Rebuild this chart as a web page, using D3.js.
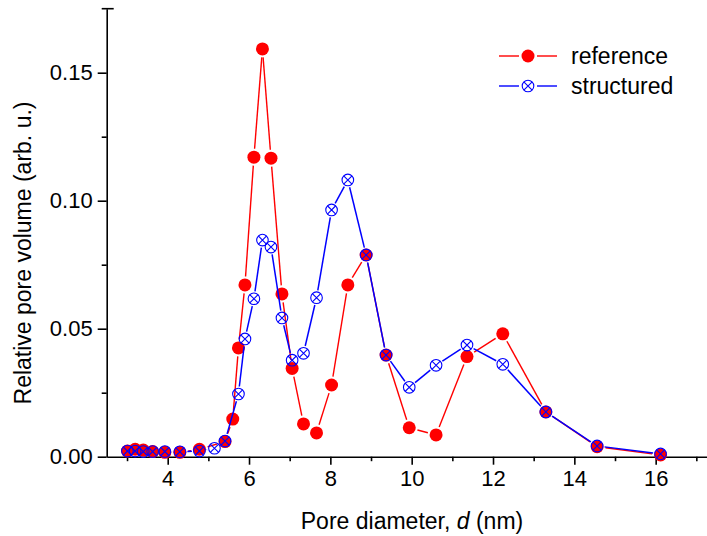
<!DOCTYPE html>
<html>
<head>
<meta charset="utf-8">
<script src="https://cdn.jsdelivr.net/npm/d3@7"></script>
<style>
  html, body { margin: 0; padding: 0; background: #fff; }
  svg { display: block; font-family: "Liberation Sans", Arial, sans-serif; }
</style>
</head>
<body>
<svg id="chart" width="707" height="536"></svg>
<script>
// Pore diameter (nm) and relative pore volume for the two samples
const refD = [3.01, 3.20, 3.40, 3.63, 3.93, 4.30, 4.78, 5.41, 5.60, 5.74, 5.90, 6.12, 6.33, 6.54, 6.81, 7.06, 7.34, 7.66, 8.03, 8.43, 8.88, 9.37, 9.94, 10.60, 11.36, 12.24, 13.30, 14.56, 16.12];
const refV = [0.0022, 0.0029, 0.0026, 0.0020, 0.0017, 0.0017, 0.0029, 0.0059, 0.0147, 0.0425, 0.0671, 0.1170, 0.1593, 0.1166, 0.0636, 0.0345, 0.0128, 0.0093, 0.0280, 0.0671, 0.0788, 0.0397, 0.0113, 0.0085, 0.0391, 0.0480, 0.0175, 0.0039, 0.0007];

const strD = [3.01, 3.20, 3.40, 3.63, 3.93, 4.30, 4.78, 5.15, 5.41, 5.74, 5.90, 6.12, 6.33, 6.54, 6.81, 7.06, 7.34, 7.66, 8.03, 8.43, 8.88, 9.37, 9.94, 10.60, 11.36, 12.24, 13.30, 14.56, 16.12];
const strV = [0.0022, 0.0022, 0.0020, 0.0020, 0.0020, 0.0019, 0.0022, 0.0033, 0.0061, 0.0245, 0.0460, 0.0617, 0.0846, 0.0819, 0.0542, 0.0377, 0.0404, 0.0621, 0.0964, 0.1081, 0.0788, 0.0397, 0.0271, 0.0357, 0.0436, 0.0361, 0.0175, 0.0042, 0.0011];

const xMajor = [4, 6, 8, 10, 12, 14, 16];
const xMinor = [3, 5, 7, 9, 11, 13, 15, 17];
const yMajor = [0.00, 0.05, 0.10, 0.15];
const yMinor = [0.025, 0.075, 0.125];

const seriesNames = ["reference", "structured"];
const colors = { reference: "#ff0000", structured: "#0000ff" };

const svg = d3.select("#chart");
const FONT = 22;

const x = d3.scaleLinear().domain([2.5, 17.25]).range([106.7, 706.5]);
const y = d3.scaleLinear().domain([0, 0.175]).range([456.7, 8.7]);

// axes
const axisColor = "#000";
const gx = svg.append("g").attr("transform", `translate(0,${y(0)})`);
gx.call(d3.axisBottom(x).tickValues(xMajor).tickSize(8).tickSizeOuter(0).tickPadding(6).tickFormat(d3.format("d")));
gx.append("g").call(d3.axisBottom(x).tickValues(xMinor).tickSize(4.5).tickSizeOuter(0).tickFormat(""))
  .select(".domain").remove();
gx.selectAll("path.domain").attr("stroke", axisColor).attr("stroke-width", 1.6);
gx.selectAll(".tick line").attr("stroke", axisColor).attr("stroke-width", 1.6);
gx.selectAll(".tick text").attr("font-size", FONT).attr("fill", "#000").attr("font-family", "Liberation Sans, Arial, sans-serif");

const gy = svg.append("g").attr("transform", `translate(${x(2.5)},0)`);
gy.call(d3.axisLeft(y).tickValues(yMajor).tickSize(9).tickSizeOuter(0).tickPadding(5).tickFormat(d3.format(".2f")));
gy.append("g").call(d3.axisLeft(y).tickValues(yMinor).tickSize(5).tickSizeOuter(0).tickFormat(""))
  .select(".domain").remove();
gy.selectAll("path.domain").attr("stroke", axisColor).attr("stroke-width", 1.6);
gy.selectAll(".tick line").attr("stroke", axisColor).attr("stroke-width", 1.6);
gy.selectAll(".tick text").attr("font-size", FONT).attr("fill", "#000").attr("font-family", "Liberation Sans, Arial, sans-serif");
// cap at top of the y axis
gy.append("line").attr("x1", -5).attr("x2", 7).attr("y1", y(0.175)).attr("y2", y(0.175))
  .attr("stroke", axisColor).attr("stroke-width", 1.6);

// axis titles
const xt = svg.append("text").attr("x", 412).attr("y", 529).attr("text-anchor", "middle")
  .attr("font-size", FONT + 1).attr("fill", "#000");
xt.append("tspan").text("Pore diameter, ");
xt.append("tspan").attr("font-style", "italic").text("d");
xt.append("tspan").text(" (nm)");

svg.append("text").attr("transform", "translate(31,253) rotate(-90)").attr("text-anchor", "middle")
  .attr("font-size", FONT + 1).attr("fill", "#000").text("Relative pore volume (arb. u.)");

// line segments broken around the symbols
function drawSegments(g, pts, color, width, gap) {
  const segs = [];
  for (let i = 0; i < pts.length - 1; i++) {
    const [x0, y0] = pts[i], [x1, y1] = pts[i + 1];
    const dx = x1 - x0, dy = y1 - y0, len = Math.hypot(dx, dy);
    if (len <= 2 * gap) continue;
    const ux = dx / len, uy = dy / len;
    segs.push([x0 + ux * gap, y0 + uy * gap, x1 - ux * gap, y1 - uy * gap]);
  }
  g.selectAll(null).data(segs).enter().append("line")
    .attr("x1", d => d[0]).attr("y1", d => d[1]).attr("x2", d => d[2]).attr("y2", d => d[3])
    .attr("stroke", color).attr("stroke-width", width);
}

function redMarker(g, cx, cy) {
  g.append("circle").attr("cx", cx).attr("cy", cy).attr("r", 6.5).attr("fill", colors.reference);
}
function blueMarker(g, cx, cy) {
  const r = 5.8, k = r * 0.72;
  g.append("circle").attr("cx", cx).attr("cy", cy).attr("r", r)
    .attr("fill", "none").attr("stroke", colors.structured).attr("stroke-width", 1.1);
  g.append("path").attr("d", `M${cx - k},${cy - k}L${cx + k},${cy + k}M${cx - k},${cy + k}L${cx + k},${cy - k}`)
    .attr("stroke", colors.structured).attr("stroke-width", 1.1).attr("fill", "none");
}

const refPts = refD.map((d, i) => [x(d), y(refV[i])]);
const strPts = strD.map((d, i) => [x(d), y(strV[i])]);

const gRef = svg.append("g");
drawSegments(gRef, refPts, colors.reference, 1.4, 8.5);
refPts.forEach(p => redMarker(gRef, p[0], p[1]));

const gStr = svg.append("g");
drawSegments(gStr, strPts, colors.structured, 1.5, 7.5);
strPts.forEach(p => blueMarker(gStr, p[0], p[1]));

// legend
const legend = svg.append("g");
const legRows = [
  { name: seriesNames[0], y: 56 },
  { name: seriesNames[1], y: 86 }
];
legRows.forEach((row, i) => {
  const c = colors[row.name];
  legend.append("line").attr("x1", 499).attr("x2", 519).attr("y1", row.y).attr("y2", row.y)
    .attr("stroke", c).attr("stroke-width", 1.4);
  legend.append("line").attr("x1", 537).attr("x2", 557).attr("y1", row.y).attr("y2", row.y)
    .attr("stroke", c).attr("stroke-width", 1.4);
  if (i === 0) redMarker(legend, 528, row.y); else blueMarker(legend, 528, row.y);
  legend.append("text").attr("x", 571).attr("y", row.y + 8).attr("font-size", FONT + 1)
    .attr("fill", "#000").text(row.name);
});
</script>
</body>
</html>
